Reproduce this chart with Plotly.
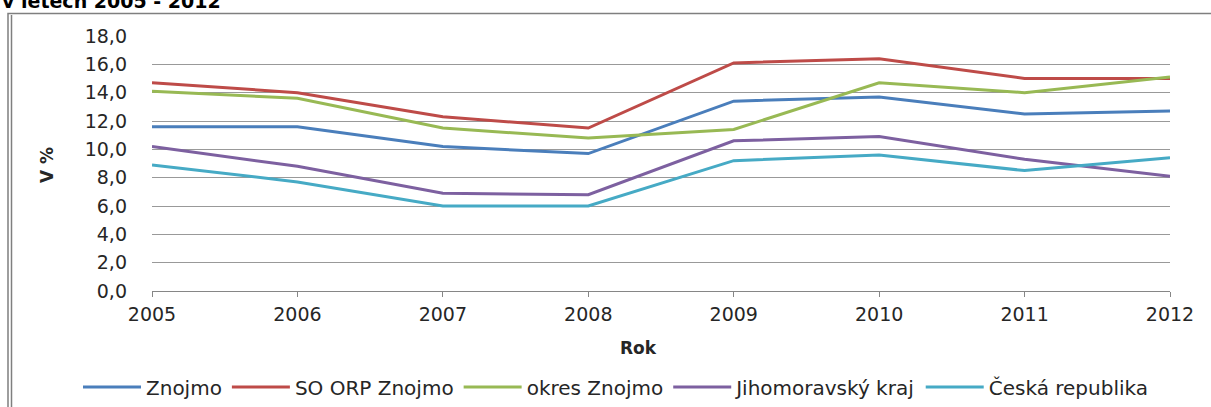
import plotly.graph_objects as go

years = [2005, 2006, 2007, 2008, 2009, 2010, 2011, 2012]
znojmo = [11.6, 11.6, 10.2, 9.7, 13.4, 13.7, 12.5, 12.7]
so_orp = [14.7, 14.0, 12.3, 11.5, 16.1, 16.4, 15.0, 15.0]
okres = [14.1, 13.6, 11.5, 10.8, 11.4, 14.7, 14.0, 15.1]
jmk = [10.2, 8.8, 6.9, 6.8, 10.6, 10.9, 9.3, 8.1]
cr = [8.9, 7.7, 6.0, 6.0, 9.2, 9.6, 8.5, 9.4]
names = ["Znojmo", "SO ORP Znojmo", "okres Znojmo", "Jihomoravský kraj", "Česká republika"]
colors = ["#4A7EBB", "#BE4B48", "#98B954", "#7D60A0", "#46AAC5"]
yticks = [0, 2, 4, 6, 8, 10, 12, 14, 16, 18]
ytext = [f"{v:.1f}".replace(".", ",") for v in yticks]

W, H = 1211, 407
L, R, T, B = 152, 41, 36, 116
pw, ph = W - L - R, H - T - B

def px(x):
    return (x - L) / pw

def py(y):
    return (H - B - y) / ph

fig = go.Figure()
for name, vals, c in zip(names, [znojmo, so_orp, okres, jmk, cr], colors):
    fig.add_trace(go.Scatter(x=years, y=vals, name=name, mode="lines",
                             line=dict(color=c, width=3)))

font = "DejaVu Sans"
txt = "#262626"
fig.update_layout(
    width=W, height=H,
    margin=dict(l=L, r=R, t=T, b=B, autoexpand=False),
    plot_bgcolor="white", paper_bgcolor="white",
    font=dict(family=font, color=txt),
    showlegend=True,
    legend=dict(orientation="h", x=px(78), xanchor="left",
                y=py(387), yanchor="middle",
                font=dict(size=20, family=font, color=txt), itemwidth=58,
                tracegroupgap=0),
    xaxis=dict(range=[2005, 2012], tickvals=years, ticktext=[str(y) for y in years],
               showgrid=False, showline=True, linecolor="#868686", linewidth=1,
               ticks="outside", ticklen=5, tickcolor="#868686", ticklabelstandoff=1,
               tickfont=dict(size=19, family=font, color=txt), zeroline=False),
    yaxis=dict(range=[0, 18], tickvals=yticks, ticktext=ytext,
               showgrid=True, gridcolor="#999999", gridwidth=1,
               showline=False, ticks="", ticklabelstandoff=24,
               tickfont=dict(size=19, family=font, color=txt), zeroline=False),
    annotations=[
        dict(text="<b>Rok</b>", x=px(638), y=py(348), xref="paper", yref="paper",
             xanchor="center", yanchor="middle",
             showarrow=False, font=dict(size=17, family=font, color=txt)),
        dict(text="<b>V %</b>", x=px(47), y=py(165), xref="paper", yref="paper",
             xanchor="center", yanchor="middle",
             showarrow=False, textangle=-90, font=dict(size=17, family=font, color=txt)),
        dict(text="<b>v letech 2005 - 2012</b>", x=px(0), y=py(1), xref="paper", yref="paper",
             xanchor="left", yanchor="middle", showarrow=False,
             font=dict(size=19, family=font, color="#000000")),
    ],
    shapes=[
        dict(type="rect", xref="paper", yref="paper", x0=px(8), x1=px(1240), y0=py(430), y1=py(13.5),
             line=dict(color="#7F7F7F", width=1.5)),
        dict(type="line", xref="paper", yref="paper", x0=px(11.5), x1=px(11.5), y0=py(430), y1=py(15),
             line=dict(color="#7F7F7F", width=1.5)),
    ],
)

fig.write_html("out.html", config={"displayModeBar": False},
               post_script="document.body.style.margin='0';document.body.style.overflow='hidden';")
